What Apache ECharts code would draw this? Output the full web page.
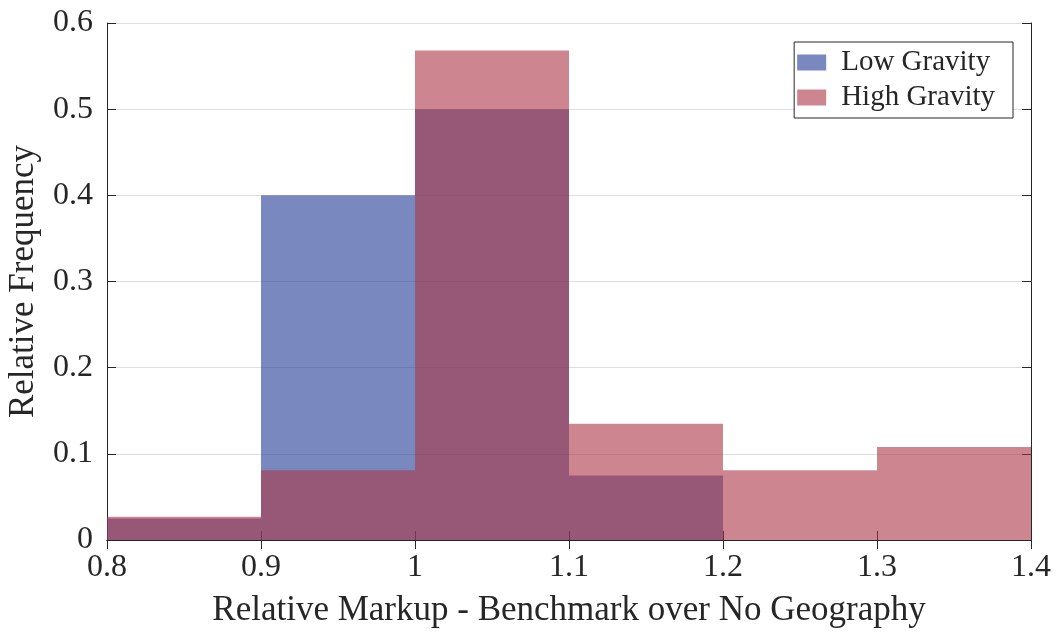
<!DOCTYPE html>
<html>
<head>
<meta charset="utf-8">
<script src="https://cdn.jsdelivr.net/npm/echarts@6/dist/echarts.min.js"></script>
<style>
html,body{margin:0;padding:0;background:#fff;}
#chart{width:1057px;height:633px;}
</style>
</head>
<body>
<div id="chart"></div>
<script>
const binEdges = [0.8, 0.9, 1.0, 1.1, 1.2, 1.3, 1.4];
const lowGravity = [0.025, 0.4, 0.5, 0.075, 0, 0];
const highGravity = [0.027, 0.081, 0.568, 0.135, 0.081, 0.108];
const seriesNames = ['Low Gravity', 'High Gravity'];
const xTicks = [0.8, 0.9, 1.0, 1.1, 1.2, 1.3, 1.4];
const yTicks = [0, 0.1, 0.2, 0.3, 0.4, 0.5, 0.6];

const FONT = '"Liberation Serif", "Times New Roman", serif';
const TXT = '#262626';

function toBins(vals) {
  const out = [];
  for (let i = 0; i < vals.length; i++) {
    out.push([binEdges[i], binEdges[i + 1], vals[i]]);
  }
  return out;
}

function renderBin(color) {
  return function (params, api) {
    const h = api.value(2);
    if (!h) return null;
    const p0 = api.coord([api.value(0), h]);
    const p1 = api.coord([api.value(1), 0]);
    return {
      type: 'rect',
      shape: { x: p0[0], y: p0[1], width: p1[0] - p0[0], height: p1[1] - p0[1] },
      style: { fill: color, opacity: 0.6 }
    };
  };
}

const chart = echarts.init(document.getElementById('chart'), null, { renderer: 'canvas' });
const blue = 'rgb(32,58,150)';
const red = 'rgb(172,53,70)';

const axisLineStyle = { color: TXT, width: 1 };

chart.setOption({
  animation: false,
  backgroundColor: '#fff',
  grid: { left: 107, top: 23, right: 26, bottom: 93, containLabel: false, outerBoundsMode: 'none' },
  legend: {
    orient: 'vertical',
    right: 44,
    top: 42,
    itemWidth: 29,
    itemHeight: 16,
    itemGap: 6,
    padding: [6, 18, 6, 3],
    borderColor: TXT,
    borderWidth: 1,
    backgroundColor: '#fff',
    icon: 'rect',
    textStyle: { fontFamily: FONT, fontSize: 29, color: TXT, padding: [0, 0, 0, 10] },
    data: [
      { name: seriesNames[0], itemStyle: { color: 'rgba(32,58,150,0.6)' } },
      { name: seriesNames[1], itemStyle: { color: 'rgba(172,53,70,0.6)' } }
    ]
  },
  xAxis: [
    {
      type: 'value', min: 0.8, max: 1.4, interval: 0.1, position: 'bottom',
      name: 'Relative Markup - Benchmark over No Geography',
      nameLocation: 'middle', nameGap: 53,
      nameTextStyle: { fontFamily: FONT, fontSize: 35, color: TXT },
      axisLine: { show: true, lineStyle: axisLineStyle },
      axisTick: { show: true, inside: true, length: 9, lineStyle: axisLineStyle },
      axisLabel: { fontFamily: FONT, fontSize: 32, color: TXT, margin: 12,
        formatter: v => { const t = xTicks.find(x => Math.abs(x - v) < 1e-9); return t === undefined ? '' : String(+t.toFixed(1)); } },
      splitLine: { show: false }
    },
    {
      type: 'value', min: 0.8, max: 1.4, interval: 0.1, position: 'top',
      axisLine: { show: true, lineStyle: axisLineStyle },
      axisTick: { show: true, inside: true, length: 9, lineStyle: axisLineStyle },
      axisLabel: { show: false },
      splitLine: { show: false }
    }
  ],
  yAxis: [
    {
      type: 'value', min: 0, max: 0.6, interval: 0.1, position: 'left',
      name: 'Relative Frequency',
      nameLocation: 'middle', nameGap: 66,
      nameTextStyle: { fontFamily: FONT, fontSize: 35, color: TXT },
      axisLine: { show: true, lineStyle: axisLineStyle },
      axisTick: { show: true, inside: true, length: 9, lineStyle: axisLineStyle },
      axisLabel: { fontFamily: FONT, fontSize: 32, color: TXT, margin: 14,
        formatter: v => { const t = yTicks.find(x => Math.abs(x - v) < 1e-9); return t === undefined ? '' : String(+t.toFixed(1)); } },
      splitLine: { show: true, lineStyle: { color: '#dedede', width: 1 } }
    },
    {
      type: 'value', min: 0, max: 0.6, interval: 0.1, position: 'right',
      axisLine: { show: true, lineStyle: axisLineStyle },
      axisTick: { show: true, inside: true, length: 9, lineStyle: axisLineStyle },
      axisLabel: { show: false },
      splitLine: { show: false }
    }
  ],
  series: [
    {
      name: seriesNames[0], type: 'custom', xAxisIndex: 0, yAxisIndex: 0,
      itemStyle: { color: 'rgba(32,58,150,0.6)' },
      renderItem: renderBin(blue),
      encode: { x: [0, 1], y: 2 },
      data: toBins(lowGravity), z: 2
    },
    {
      name: seriesNames[1], type: 'custom', xAxisIndex: 0, yAxisIndex: 0,
      itemStyle: { color: 'rgba(172,53,70,0.6)' },
      renderItem: renderBin(red),
      encode: { x: [0, 1], y: 2 },
      data: toBins(highGravity), z: 3
    }
  ]
});
</script>
</body>
</html>
